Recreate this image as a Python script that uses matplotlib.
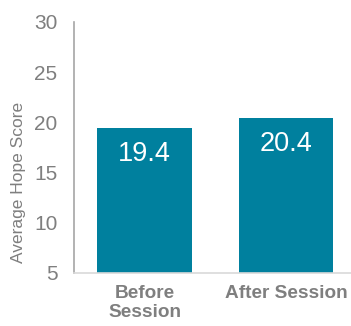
import matplotlib.pyplot as plt

# values
categories = ['Before\nSession', 'After Session']
scores = [19.4, 20.4]
y_ticks = [5, 10, 15, 20, 25, 30]

teal = '#00809E'
grey = '#7F7F7F'

plt.rcParams['font.family'] = ['Liberation Sans', 'DejaVu Sans']

fig = plt.figure(figsize=(3.51, 3.26), dpi=100)
ax = fig.add_axes([74 / 351, (326 - 273) / 326, (351 - 74) / 351, (273 - 22) / 326])

x = range(len(categories))
bars = ax.bar(x, scores, width=0.67, color=teal, bottom=0)

for bar, v in zip(bars, scores):
    ax.text(bar.get_x() + bar.get_width() / 2, v - 1.3, f'{v:.1f}',
            ha='center', va='top', color='white', fontsize=19.5)

ax.set_ylim(5, 30)
ax.set_xlim(-0.5, 1.46)
ax.set_yticks(y_ticks)
ax.set_xticks(list(x))
ax.set_xticklabels(categories, fontweight='bold', color=grey, fontsize=13.7,
                   linespacing=1.15)
ax.tick_params(axis='y', length=0, pad=12, labelsize=15, labelcolor=grey)
ax.tick_params(axis='x', length=0, pad=9)
ax.set_ylabel('Average Hope Score', color=grey, fontsize=12.5)
ax.yaxis.set_label_coords(-0.172, 0.36)

ax.spines['top'].set_visible(False)
ax.spines['right'].set_visible(False)
ax.spines['left'].set_color('#A6A6A6')
ax.spines['bottom'].set_color('#D9D9D9')
ax.spines['left'].set_linewidth(1.2)
ax.spines['bottom'].set_linewidth(1.2)

fig.savefig('out.png', dpi=100)
